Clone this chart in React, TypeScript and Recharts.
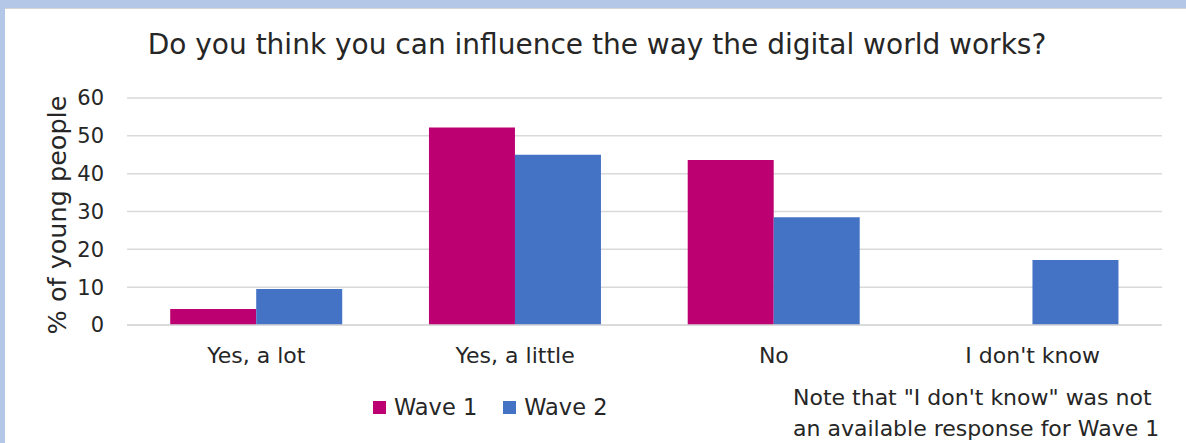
import React from 'react';
import { BarChart, Bar, XAxis, YAxis, CartesianGrid } from 'recharts';

const categories = ['Yes, a lot', 'Yes, a little', 'No', "I don't know"];
const wave1 = [4.2, 52.2, 43.6, null];
const wave2 = [9.5, 45, 28.5, 17.2];
const yTicks = [0, 10, 20, 30, 40, 50, 60];
const seriesNames = ['Wave 1', 'Wave 2'];
const seriesColors = ['#bc0072', '#4472c4'];

const data = categories.map((name, i) => ({ name, w1: wave1[i], w2: wave2[i] }));

const FONT = '"DejaVu Sans", sans-serif';
const TEXT = '#262626';

const App = () => {
  return (
    <div
      style={{
        position: 'absolute',
        left: 0,
        top: 0,
        width: 1186,
        height: 443,
        background: '#b4c7e7',
        fontFamily: FONT,
        overflow: 'hidden',
      }}
    >
      <div
        style={{
          position: 'absolute',
          left: 5,
          top: 8,
          width: 1181,
          height: 435,
          background: '#fff',
          borderTop: '1px solid #d4d4d4',
        }}
      />
      <div style={{ position: 'absolute', left: 0, top: 0 }}>
        <BarChart
          width={1186}
          height={443}
          data={data}
          margin={{ top: 98, right: 24, left: 77, bottom: 78 }}
          barCategoryGap="16.7%"
          barGap={0}
        >
          <CartesianGrid vertical={false} stroke="#d9d9d9" strokeWidth={1.5} />
          <XAxis
            dataKey="name"
            axisLine={{ stroke: '#d9d9d9', strokeWidth: 1.5 }}
            tickLine={false}
            tickMargin={16}
            tick={{ fontSize: 22, fill: TEXT, fontFamily: FONT }}
            height={40}
          />
          <YAxis
            domain={[0, 60]}
            ticks={yTicks}
            interval={0}
            axisLine={false}
            tickLine={false}
            tickSize={0}
            tickMargin={23}
            width={50}
            tick={{ fontSize: 21, fill: TEXT, fontFamily: FONT }}
          />
          <Bar dataKey="w1" name={seriesNames[0]} fill={seriesColors[0]} isAnimationActive={false} />
          <Bar dataKey="w2" name={seriesNames[1]} fill={seriesColors[1]} isAnimationActive={false} />
        </BarChart>
      </div>
      <div
        style={{
          position: 'absolute',
          left: 0,
          width: 1194,
          top: 28,
          textAlign: 'center',
          fontSize: 28,
          color: TEXT,
          whiteSpace: 'nowrap',
        }}
      >
        Do you think you can influence the way the digital world works?
      </div>
      <div
        style={{
          position: 'absolute',
          left: 57,
          top: 215,
          lineHeight: '28px',
          transform: 'translate(-50%, -50%) rotate(-90deg)',
          fontSize: 25.5,
          color: TEXT,
          whiteSpace: 'nowrap',
        }}
      >
        % of young people
      </div>
      <div
        style={{
          position: 'absolute',
          left: 373,
          top: 394,
          display: 'flex',
          alignItems: 'center',
          fontSize: 22.5,
          color: TEXT,
          whiteSpace: 'nowrap',
        }}
      >
        {seriesNames.map((n, i) => (
          <span key={n} style={{ display: 'flex', alignItems: 'center', marginRight: 26 }}>
            <span
              style={{
                display: 'inline-block',
                width: 13,
                height: 13,
                background: seriesColors[i],
                marginRight: 8,
              }}
            />
            {n}
          </span>
        ))}
      </div>
      <div
        style={{
          position: 'absolute',
          left: 793,
          top: 382,
          fontSize: 22,
          lineHeight: '31px',
          color: TEXT,
          whiteSpace: 'nowrap',
        }}
      >
        Note that "I don't know" was not
        <br />
        an available response for Wave 1
      </div>
    </div>
  );
};

export default App;
